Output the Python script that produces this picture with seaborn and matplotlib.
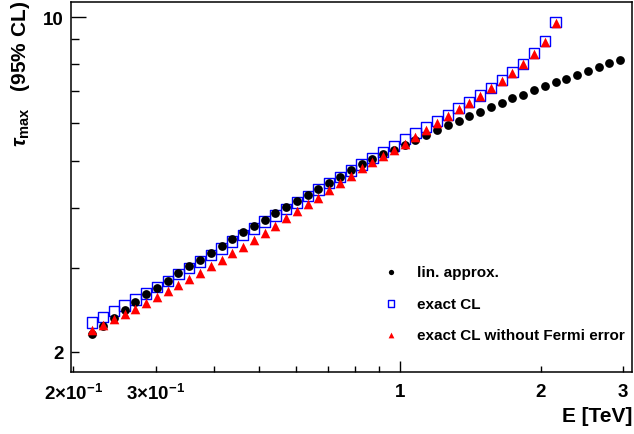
import matplotlib
matplotlib.use("Agg")
import matplotlib.pyplot as plt
from matplotlib.ticker import FixedLocator, FuncFormatter
import seaborn as sns
import pandas as pd

# energy grid [TeV]
energy = [0.2196, 0.2316, 0.2442, 0.2575, 0.2715, 0.2863, 0.3019, 0.3184, 0.3357, 0.3540,
          0.3733, 0.3937, 0.4151, 0.4378, 0.4616, 0.4868, 0.5133, 0.5413, 0.5708, 0.6019,
          0.6347, 0.6693, 0.7058, 0.7443, 0.7849, 0.8277, 0.8728, 0.9204, 0.9706, 1.0235,
          1.0793, 1.1382, 1.2002, 1.2657, 1.3347, 1.4075, 1.4842, 1.5651, 1.6505, 1.7405,
          1.8354, 1.9354, 2.0410, 2.1523, 2.2696, 2.3934, 2.5239, 2.6615, 2.8066, 2.9597]

lin_approx = [2.175, 2.266, 2.349, 2.448, 2.544, 2.636, 2.721, 2.810, 2.917, 3.026,
              3.110, 3.212, 3.326, 3.440, 3.553, 3.657, 3.775, 3.893, 4.013, 4.130,
              4.245, 4.376, 4.504, 4.637, 4.788, 4.928, 5.055, 5.179, 5.292, 5.408,
              5.539, 5.675, 5.812, 5.945, 6.079, 6.209, 6.353, 6.492, 6.620, 6.765,
              6.896, 7.040, 7.174, 7.313, 7.442, 7.586, 7.722, 7.873, 8.007, 8.152]

exact_cl = [2.304, 2.363, 2.433, 2.500, 2.573, 2.649, 2.731, 2.814, 2.907, 2.997,
            3.090, 3.190, 3.289, 3.402, 3.507, 3.622, 3.746, 3.856, 3.975, 4.104,
            4.237, 4.369, 4.504, 4.643, 4.788, 4.928, 5.080, 5.237, 5.390, 5.559,
            5.725, 5.891, 6.079, 6.254, 6.461, 6.651, 6.863, 7.115, 7.395, 7.686,
            7.998, 8.409, 8.913, 9.777]

exact_cl_no_fermi = [2.220, 2.274, 2.341, 2.401, 2.464, 2.532, 2.602, 2.683, 2.756, 2.833,
                     2.921, 3.017, 3.110, 3.212, 3.315, 3.428, 3.541, 3.668, 3.802, 3.937,
                     4.071, 4.197, 4.355, 4.504, 4.652, 4.842, 4.977, 5.130, 5.280, 5.440,
                     5.634, 5.827, 6.026, 6.209, 6.424, 6.632, 6.857, 7.099, 7.359, 7.649,
                     7.970, 8.382, 8.888, 9.748]

x_minor_ticks = [0.2, 0.3, 0.4, 0.5, 0.6, 0.7, 0.8, 0.9, 2, 3]
x_tick_text = {0.2: r"2$\times$10$^{\mathbf{-1}}$", 0.3: r"3$\times$10$^{\mathbf{-1}}$",
               2: "2", 3: "3"}
y_minor_ticks = [2, 3, 4, 5, 6, 7, 8, 9]

sns.set_style("ticks")
plt.rcParams["font.family"] = ["Liberation Sans", "DejaVu Sans"]
plt.rcParams["font.weight"] = "bold"
plt.rcParams["text.color"] = "black"
plt.rcParams["mathtext.fontset"] = "custom"
plt.rcParams["mathtext.rm"] = "Liberation Sans"
plt.rcParams["mathtext.bf"] = "Liberation Sans:bold"
plt.rcParams["mathtext.it"] = "Liberation Sans:italic"

fig = plt.figure(figsize=(6.34, 4.35), dpi=100)
ax = fig.add_axes([71 / 634, 1 - 372.5 / 435, 561 / 634, 369.5 / 435])

df_lin = pd.DataFrame({"E": energy, "tau": lin_approx})
df_exact = pd.DataFrame({"E": energy[:len(exact_cl)], "tau": exact_cl})
df_nof = pd.DataFrame({"E": energy[:len(exact_cl_no_fermi)], "tau": exact_cl_no_fermi})

sns.scatterplot(data=df_exact, x="E", y="tau", ax=ax, marker="s", s=55,
                facecolors="none", edgecolor="#0000ff", linewidth=1.0,
                label="exact CL", zorder=2)
sns.scatterplot(data=df_lin, x="E", y="tau", ax=ax, marker="o", s=40,
                color="black", edgecolor="black", linewidth=0,
                label="lin. approx.", zorder=3)
sns.scatterplot(data=df_nof, x="E", y="tau", ax=ax, marker="^", s=48,
                color="#ff0000", edgecolor="#ff0000", linewidth=0,
                label="exact CL without Fermi error", zorder=4)

ax.set_xscale("log")
ax.set_yscale("log")
ax.set_xlim(0.1977, 3.137)
ax.set_ylim(1.82, 10.76)

ax.xaxis.set_major_locator(FixedLocator([1]))
ax.xaxis.set_minor_locator(FixedLocator(x_minor_ticks))
ax.xaxis.set_major_formatter(FuncFormatter(lambda v, p: "1"))
ax.xaxis.set_minor_formatter(FuncFormatter(
    lambda v, p: next((t for k, t in x_tick_text.items() if abs(v - k) < 1e-6), "")))
ax.yaxis.set_major_locator(FixedLocator([10]))
ax.yaxis.set_minor_locator(FixedLocator(y_minor_ticks))
ax.yaxis.set_major_formatter(FuncFormatter(lambda v, p: "10"))
ax.yaxis.set_minor_formatter(FuncFormatter(lambda v, p: "2" if abs(v - 2) < 1e-6 else ""))

ax.tick_params(which="both", direction="in", top=False, right=False,
               labelsize=13.5, colors="black", width=1.0)
ax.tick_params(axis="x", which="major", length=8, pad=8)
ax.tick_params(axis="x", which="minor", length=4.5, pad=8)
ax.tick_params(axis="y", which="major", length=11, pad=5)
ax.tick_params(axis="y", which="minor", length=6, pad=5)
for lab in ax.get_xticklabels(which="both") + ax.get_yticklabels(which="both"):
    lab.set_fontweight("bold")
for sp in ax.spines.values():
    sp.set_visible(True)
    sp.set_linewidth(1.1)
    sp.set_color("black")

ax.set_xlabel("")
ax.set_ylabel("")
fig.text(632 / 634, 1 - 417 / 435, "E [TeV]", ha="right", va="center",
         fontsize=15, fontweight="bold", color="black")
fig.text(21 / 634, 1 - 1 / 435, r"$\tau_{\mathbf{max}}$   (95% CL)", rotation=90,
         ha="center", va="top", fontsize=15, fontweight="bold", color="black")

handles, labels = ax.get_legend_handles_labels()
order = [labels.index("lin. approx."), labels.index("exact CL"),
         labels.index("exact CL without Fermi error")]
leg = ax.legend([handles[i] for i in order], [labels[i] for i in order],
                loc="upper left", bbox_to_anchor=(383 / 634, 1 - 266 / 435),
                bbox_transform=fig.transFigure, frameon=False, fontsize=11,
                markerscale=0.6, handlelength=1.0, handletextpad=1.2,
                labelspacing=1.15, borderpad=0, borderaxespad=0)
for t in leg.get_texts():
    t.set_fontweight("bold")
    t.set_color("black")

fig.savefig("out.png", dpi=100)
